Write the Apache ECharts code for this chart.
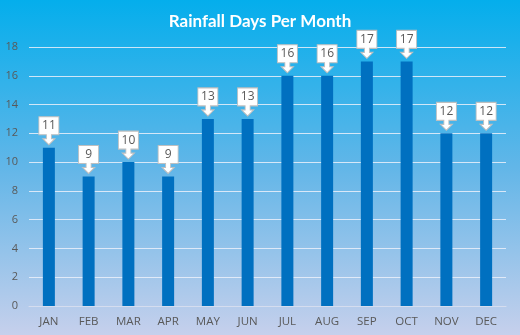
<!DOCTYPE html>
<html><head><meta charset="utf-8">
<script src="https://cdn.jsdelivr.net/npm/echarts@6/dist/echarts.min.js"></script>
<style>html,body{margin:0;padding:0;}#c{width:520px;height:335px;}</style>
</head><body><div id="c"></div>
<script>
const months = ['JAN','FEB','MAR','APR','MAY','JUN','JUL','AUG','SEP','OCT','NOV','DEC'];
const rainDays = [11, 9, 10, 9, 13, 13, 16, 16, 17, 17, 12, 12];
const yTicks = [0, 2, 4, 6, 8, 10, 12, 14, 16, 18];

const chart = echarts.init(document.getElementById('c'));
chart.setOption({
  animation: false,
  backgroundColor: new echarts.graphic.LinearGradient(0, 0, 0, 1, [
    {offset: 0, color: '#04AEEC'},
    {offset: 0.5, color: '#62B6E8'},
    {offset: 1, color: '#C6D0EC'}
  ]),
  title: {
    text: 'Rainfall Days Per Month', left: 'center', top: 8,
    textStyle: {color: '#fff', fontSize: 17, fontWeight: 'bold', fontFamily: 'Lato'}
  },
  grid: {left: 29, right: 14, top: 47, bottom: 29},
  xAxis: {
    type: 'category', data: months,
    axisLine: {lineStyle: {color: '#D5DDEF', width: 1}},
    axisTick: {show: false},
    axisLabel: {color: '#595959', fontSize: 11.5, fontFamily: 'Open Sans', margin: 10}
  },
  yAxis: {
    type: 'value', min: yTicks[0], max: yTicks[yTicks.length - 1], interval: 2,
    axisLine: {show: false}, axisTick: {show: false},
    splitLine: {lineStyle: {color: 'rgba(235,240,250,0.85)', width: 1}},
    axisLabel: {color: '#595959', fontSize: 11, fontFamily: 'Open Sans', margin: 11}
  },
  series: [
    {
      type: 'bar', data: rainDays, barWidth: 12,
      itemStyle: {color: '#0070C0'}
    },
    {
      type: 'scatter', data: rainDays,
      symbol: 'path://M0,0 H20 V18 H12.5 V22 H16 L10,28 L4,22 H7.5 V18 H0 Z',
      symbolSize: [20, 28],
      symbolOffset: [0, -17],
      itemStyle: {color: '#ffffff', borderColor: '#BFBFBF', borderWidth: 1, opacity: 1},
      label: {
        show: true, position: 'inside', offset: [0, -5],
        color: '#595959', fontSize: 12, fontFamily: 'Open Sans'
      },
      z: 5
    }
  ]
});
</script></body></html>
